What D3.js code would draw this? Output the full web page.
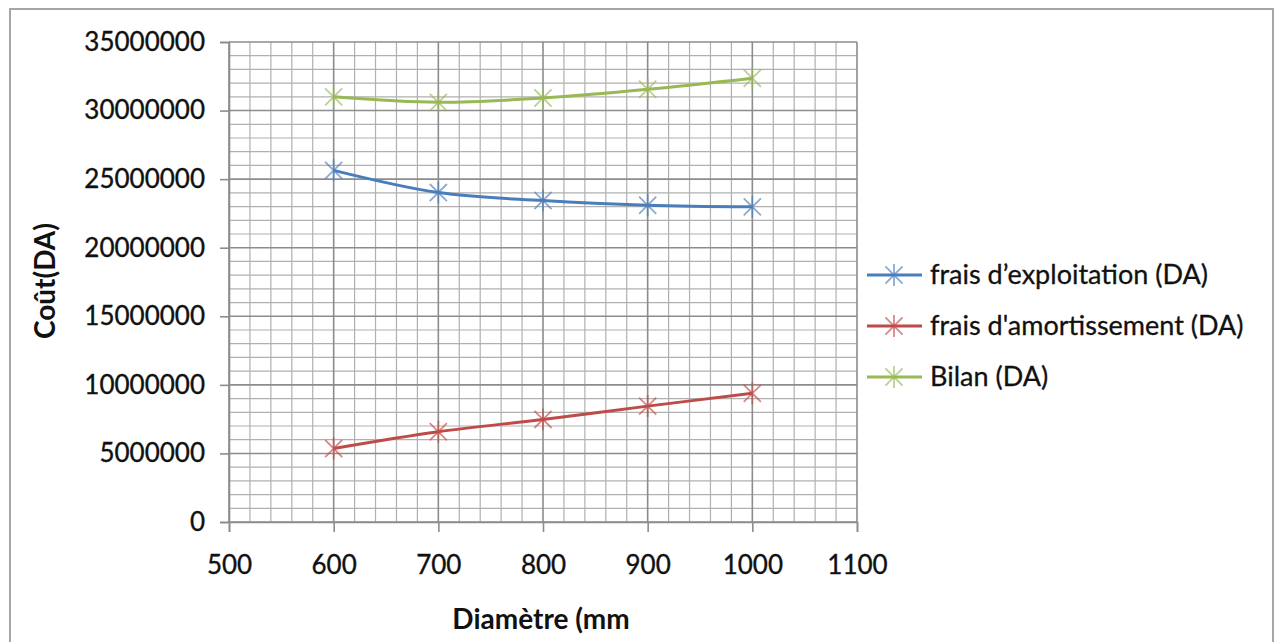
<!DOCTYPE html>
<html>
<head>
<meta charset="utf-8">
<script src="https://cdn.jsdelivr.net/npm/d3@7"></script>
<style>
  html, body { margin: 0; padding: 0; background: #fff; }
  svg { display: block; }
</style>
</head>
<body>
<svg id="chart" width="1276" height="642"></svg>
<script>
// Diameters (mm) and yearly costs (DA)
const diametres = [600, 700, 800, 900, 1000];
const fraisExploitation = [25640000, 24020000, 23440000, 23100000, 22980000];
const fraisAmortissement = [5360000, 6580000, 7480000, 8450000, 9380000];
const bilan = [31000000, 30600000, 30920000, 31550000, 32360000];

const seriesNames = ["frais d\u2019exploitation (DA)", "frais d'amortissement (DA)", "Bilan (DA)"];
const seriesColors = ["#4a7ebb", "#be4b48", "#98b954"];

const xTicks = [500, 600, 700, 800, 900, 1000, 1100];
const yTicks = [0, 5000000, 10000000, 15000000, 20000000, 25000000, 30000000, 35000000];

const series = [fraisExploitation, fraisAmortissement, bilan].map((vals, i) => ({
  name: seriesNames[i],
  color: seriesColors[i],
  points: diametres.map((d, j) => ({ x: d, y: vals[j] }))
}));

const svg = d3.select("#chart");
const font = "Lato, 'Open Sans', sans-serif";

// Outer chart frame
svg.append("rect")
  .attr("x", 10).attr("y", 9)
  .attr("width", 1263).attr("height", 660)
  .attr("fill", "#fff")
  .attr("stroke", "#a6a6a6").attr("stroke-width", 2);

const plot = { left: 229, right: 857, top: 42, bottom: 522 };

const x = d3.scaleLinear().domain([500, 1100]).range([plot.left, plot.right]);
const y = d3.scaleLinear().domain([0, 35000000]).range([plot.bottom, plot.top]);

const g = svg.append("g");

// Minor gridlines
const minorX = d3.range(500, 1100 + 1, 20).filter(v => v % 100 !== 0);
const minorY = d3.range(0, 35000000 + 1, 1000000).filter(v => v % 5000000 !== 0);

g.append("g").selectAll("line").data(minorX).join("line")
  .attr("x1", d => x(d)).attr("x2", d => x(d))
  .attr("y1", plot.top).attr("y2", plot.bottom)
  .attr("stroke", "#b0b0b0").attr("stroke-width", 1.2);
g.append("g").selectAll("line").data(minorY).join("line")
  .attr("x1", plot.left).attr("x2", plot.right)
  .attr("y1", d => y(d)).attr("y2", d => y(d))
  .attr("stroke", "#b0b0b0").attr("stroke-width", 1.2);

// Major gridlines
g.append("g").selectAll("line").data(xTicks).join("line")
  .attr("x1", d => x(d)).attr("x2", d => x(d))
  .attr("y1", plot.top).attr("y2", plot.bottom)
  .attr("stroke", "#8c8c8c").attr("stroke-width", 1.6);
g.append("g").selectAll("line").data(yTicks).join("line")
  .attr("x1", plot.left).attr("x2", plot.right)
  .attr("y1", d => y(d)).attr("y2", d => y(d))
  .attr("stroke", "#8c8c8c").attr("stroke-width", 1.6);

// Axes
const xAxis = d3.axisBottom(x).tickValues(xTicks).tickSize(10).tickPadding(24).tickFormat(d3.format("d"));
const yAxis = d3.axisLeft(y).tickValues(yTicks).tickSize(9).tickPadding(15).tickFormat(d3.format("d"));

const gx = svg.append("g").attr("transform", `translate(0,${plot.bottom})`).call(xAxis);
const gy = svg.append("g").attr("transform", `translate(${plot.left},0)`).call(yAxis);

[gx, gy].forEach(a => {
  a.select(".domain").attr("stroke", "#8c8c8c").attr("stroke-width", 1.6);
  a.selectAll(".tick line").attr("stroke", "#8c8c8c").attr("stroke-width", 1.6);
  a.selectAll(".tick text")
    .attr("fill", "#111")
    .attr("stroke", "#111").attr("stroke-width", 0.35)
    .style("font-family", font)
    .style("font-size", "26px");
});

// Axis titles
svg.append("text")
  .attr("x", 541).attr("y", 629)
  .attr("text-anchor", "middle")
  .style("font-family", font).style("font-size", "28px").style("font-weight", "bold")
  .attr("fill", "#111")
  .text("Diamètre (mm");

svg.append("text")
  .attr("transform", "translate(55,281) rotate(-90)")
  .attr("text-anchor", "middle")
  .style("font-family", font).style("font-size", "28px").style("font-weight", "bold")
  .attr("fill", "#111")
  .text("Coût(DA)");

// Smoothed lines
const line = d3.line()
  .x(d => x(d.x)).y(d => y(d.y))
  .curve(d3.curveCardinal.tension(0));

// Asterisk marker path
function star(cx, cy, r) {
  const a = r * 0.78;
  return `M${cx},${cy - r}L${cx},${cy + r}` +
         `M${cx - a},${cy - a}L${cx + a},${cy + a}` +
         `M${cx - a},${cy + a}L${cx + a},${cy - a}`;
}

const sg = svg.append("g").selectAll("g").data(series).join("g");
sg.append("path")
  .attr("d", d => line(d.points))
  .attr("fill", "none")
  .attr("stroke", d => d.color)
  .attr("stroke-width", 3);
sg.each(function (s) {
  d3.select(this).selectAll("path.mk").data(s.points).join("path")
    .attr("class", "mk")
    .attr("d", p => star(x(p.x), y(p.y), 11))
    .attr("fill", "none")
    .attr("stroke", s.color)
    .attr("stroke-opacity", 0.65)
    .attr("stroke-width", 1.8);
});

// Legend
const legend = svg.append("g");
const rows = legend.selectAll("g").data(series).join("g")
  .attr("transform", (d, i) => `translate(867,${275 + i * 51})`);
rows.append("line")
  .attr("x1", 0).attr("x2", 55).attr("y1", 0).attr("y2", 0)
  .attr("stroke", d => d.color).attr("stroke-width", 3);
rows.append("path")
  .attr("d", star(27, 0, 11))
  .attr("fill", "none")
  .attr("stroke", d => d.color)
  .attr("stroke-opacity", 0.65)
  .attr("stroke-width", 1.8);
rows.append("text")
  .attr("x", 63).attr("y", 0).attr("dy", "0.35em")
  .attr("stroke", "#111").attr("stroke-width", 0.3)
  .style("font-family", font).style("font-size", "27px")
  .attr("fill", "#111")
  .text(d => d.name);
</script>
</body>
</html>
